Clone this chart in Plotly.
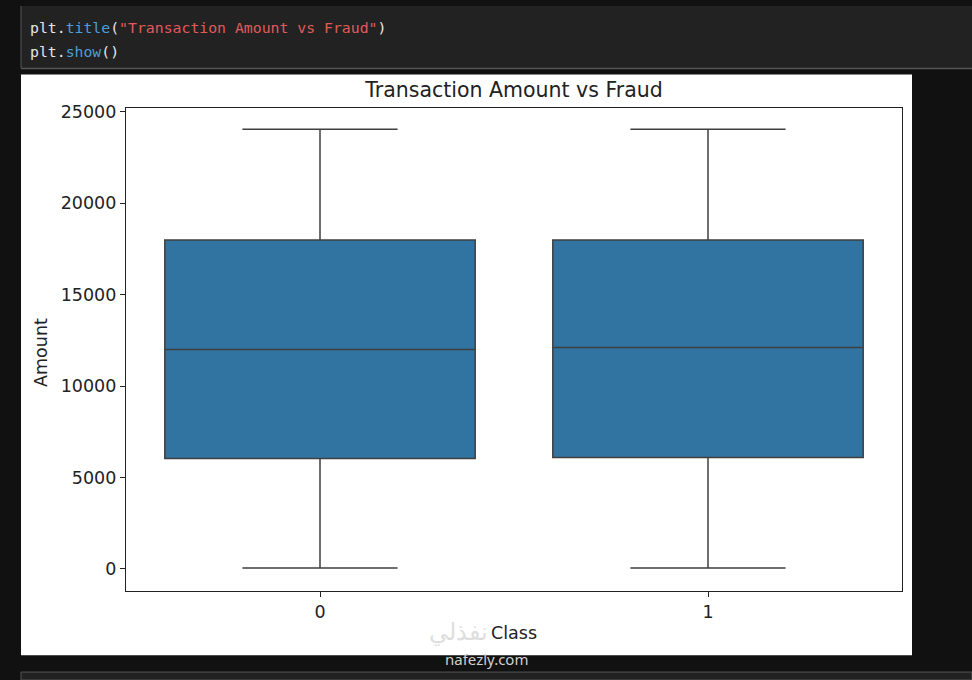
import plotly.graph_objects as go

# summary stats of Amount per Class
classes = ["0", "1"]
q1 = [6030, 6085]
median = [12000, 12110]
q3 = [17990, 17990]
lowerfence = [50, 50]
upperfence = [24040, 24040]

y_ticks = [0, 5000, 10000, 15000, 20000, 25000]

W, H = 972, 680


def px_x(v):
    return v / W


def px_y(v):
    return 1 - v / H


fig = go.Figure()

fig.add_trace(go.Box(
    x=classes,
    q1=q1,
    median=median,
    q3=q3,
    lowerfence=lowerfence,
    upperfence=upperfence,
    width=0.8,
    whiskerwidth=0.5,
    fillcolor="#3274a1",
    line=dict(color="#3f3f3f", width=1.5),
    boxpoints=False,
    hoverinfo="skip",
    showlegend=False,
))

shapes = [
    # code cell
    dict(type="rect", xref="paper", yref="paper",
         x0=px_x(21), x1=1, y0=px_y(63), y1=1,
         fillcolor="#222222", line=dict(width=0), layer="below"),
    dict(type="line", xref="paper", yref="paper",
         x0=px_x(21), x1=1, y0=px_y(63), y1=px_y(63),
         line=dict(color="#555555", width=1.5)),
    dict(type="line", xref="paper", yref="paper",
         x0=px_x(21), x1=px_x(21), y0=px_y(63), y1=1,
         line=dict(color="#555555", width=1)),
    # white figure
    dict(type="rect", xref="paper", yref="paper",
         x0=px_x(21), x1=px_x(912), y0=px_y(655), y1=px_y(69),
         fillcolor="white", line=dict(width=0), layer="below"),
    # next cell
    dict(type="rect", xref="paper", yref="paper",
         x0=px_x(21), x1=1, y0=0, y1=px_y(672),
         fillcolor="#222222", line=dict(color="#555555", width=1), layer="below"),
]

code_font = dict(family="DejaVu Sans Mono", size=14.8, color="#e6e6e6")
label_font = dict(family="DejaVu Sans", size=17.5, color="#222222")
annotations = [
    dict(text='plt.<span style="color:#4a9fd8">title</span>(<span style="color:#e05a5a">"Transaction Amount vs Fraud"</span>)',
         x=px_x(28), y=px_y(22), xref="paper", yref="paper",
         xanchor="left", yanchor="middle", showarrow=False, font=code_font),
    dict(text='plt.<span style="color:#4a9fd8">show</span>()',
         x=px_x(28), y=px_y(46), xref="paper", yref="paper",
         xanchor="left", yanchor="middle", showarrow=False, font=code_font),
    dict(text="Amount", x=px_x(41), y=px_y(350), xref="paper", yref="paper",
         textangle=-90, showarrow=False, xanchor="center", yanchor="middle",
         font=label_font),
    dict(text="Class", x=px_x(514), y=px_y(633), xref="paper", yref="paper",
         showarrow=False, xanchor="center", yanchor="middle", font=label_font),
    # watermark
    dict(text="نفذلي", x=px_x(490), y=px_y(630), xref="paper", yref="paper",
         xanchor="right", yanchor="middle",
         showarrow=False, font=dict(family="Noto Sans", size=24, color="rgba(200,200,200,0.6)")),
    dict(text="nafezly.com", x=px_x(486), y=px_y(671), xref="paper", yref="paper",
         showarrow=False, font=dict(family="Noto Sans", size=15, color="#d0d0d0")),
]

fig.update_layout(
    width=W,
    height=H,
    margin=dict(l=0, r=0, t=0, b=0),
    paper_bgcolor="#111111",
    plot_bgcolor="white",
    title=dict(text="Transaction Amount vs Fraud", x=514 / W, y=px_y(90),
               xanchor="center", yanchor="middle",
               font=dict(family="DejaVu Sans", size=20.5, color="#222222")),
    shapes=shapes,
    annotations=annotations,
    xaxis=dict(
        domain=[px_x(126), px_x(902)],
        range=[-0.5, 1.5],
        type="category",
        showline=True, mirror=True, linecolor="#222222", linewidth=1.2,
        ticks="outside", ticklen=5, tickcolor="#222222",
        showgrid=False, zeroline=False,
        tickfont=label_font,
    ),
    yaxis=dict(
        domain=[px_y(590), px_y(103)],
        range=[-1200, 25200],
        tickvals=y_ticks,
        tickformat="d",
        showline=True, mirror=True, linecolor="#222222", linewidth=1.2,
        ticks="outside", ticklen=5, tickcolor="#222222",
        showgrid=False, zeroline=False,
        tickfont=label_font,
    ),
)

fig.write_html("out.html", config={"displayModeBar": False},
               post_script="document.body.style.margin='0';")
